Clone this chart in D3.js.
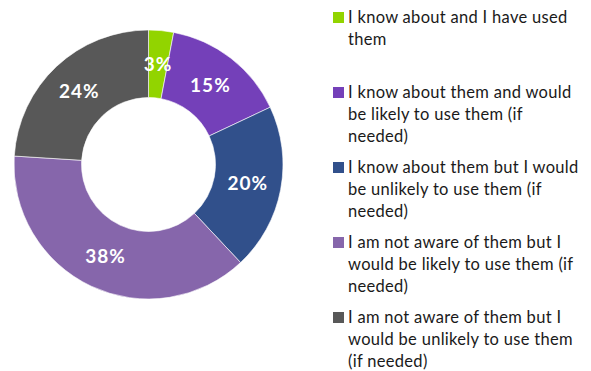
<!DOCTYPE html>
<html>
<head>
<meta charset="utf-8">
<script src="https://cdn.jsdelivr.net/npm/d3@7"></script>
<style>
  html, body { margin: 0; padding: 0; background: #fff; }
  svg { display: block; }
</style>
</head>
<body>
<svg id="chart" width="591" height="371"></svg>
<script>
// Survey answers, in drawing order (clockwise from 12 o'clock)
const categories = [
  "I know about and I have used them",
  "I know about them and would be likely to use them (if needed)",
  "I know about them but I would be unlikely to use them (if needed)",
  "I am not aware of them but I would be likely to use them (if needed)",
  "I am not aware of them but I would be unlikely to use them (if needed)"
];
const shares = [3, 15, 20, 38, 24];
const legendLines = [
  ["I know about and I have used", "them"],
  ["I know about them and would", "be likely to use them (if", "needed)"],
  ["I know about them but I would", "be unlikely to use them (if", "needed)"],
  ["I am not aware of them but I", "would be likely to use them (if", "needed)"],
  ["I am not aware of them but I", "would be unlikely to use them", "(if needed)"]
];
const palette = ["#92d400", "#7440b9", "#31508b", "#8666ab", "#585858"];

const svg = d3.select("#chart");
const cx = 148.5, cy = 164.5, outerR = 134.5, innerR = 67;

const color = d3.scaleOrdinal().domain(categories).range(palette);

const pie = d3.pie().sort(null).value(d => d.value);
const arcs = pie(categories.map((c, i) => ({ name: c, value: shares[i] })));

const arc = d3.arc().innerRadius(innerR).outerRadius(outerR);
const labelArc = d3.arc().innerRadius(101).outerRadius(101);

const g = svg.append("g").attr("transform", `translate(${cx},${cy})`);

g.selectAll("path.slice")
  .data(arcs)
  .join("path")
  .attr("class", "slice")
  .attr("d", arc)
  .attr("fill", d => color(d.data.name))
  .attr("stroke", "#ffffff")
  .attr("stroke-width", 0.6);

g.selectAll("text.pct")
  .data(arcs)
  .join("text")
  .attr("class", "pct")
  .attr("transform", d => `translate(${labelArc.centroid(d)})`)
  .attr("text-anchor", "middle")
  .attr("dy", "0.36em")
  .attr("fill", "#ffffff")
  .style("font-family", "Lato, 'Open Sans', sans-serif")
  .style("font-weight", "700")
  .style("font-size", "19px")
  .style("letter-spacing", "1px")
  .text(d => d3.format(".0f")(d.data.value) + "%");

// Legend: one block per answer, fixed vertical stride
const legend = svg.append("g").attr("transform", "translate(333,0)");
const stride = 75, firstBaseline = 23, lineHeight = 22;

const item = legend.selectAll("g.item")
  .data(categories)
  .join("g")
  .attr("class", "item")
  .attr("transform", (d, i) => `translate(0,${firstBaseline + i * stride})`);

item.append("rect")
  .attr("x", 0)
  .attr("y", -11)
  .attr("width", 11)
  .attr("height", 11)
  .attr("fill", d => color(d));

item.append("text")
  .attr("x", 15)
  .attr("y", 0)
  .attr("fill", "#1a1a1a")
  .style("font-family", "Lato, 'Open Sans', sans-serif")
  .style("font-size", "16.5px")
  .style("letter-spacing", "0.3px")
  .selectAll("tspan")
  .data((d, i) => legendLines[i])
  .join("tspan")
  .attr("x", 15)
  .attr("dy", (d, j) => j === 0 ? 0 : lineHeight)
  .text(d => d);
</script>
</body>
</html>
